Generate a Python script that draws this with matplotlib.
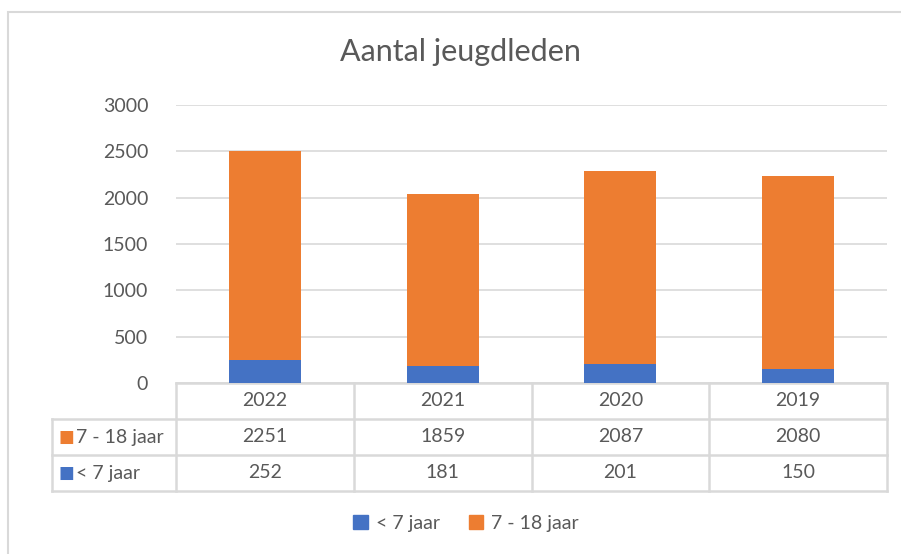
import matplotlib.pyplot as plt
from matplotlib.patches import Patch, Rectangle
from matplotlib.lines import Line2D

plt.rcParams['font.family'] = ['Lato', 'DejaVu Sans']

years = ['2022', '2021', '2020', '2019']
series_names = ['7 - 18 jaar', '< 7 jaar']
under_7 = [252, 181, 201, 150]
age_7_18 = [2251, 1859, 2087, 2080]

blue = '#4472C4'
orange = '#ED7D31'
grey_text = '#595959'
grid_col = '#D9D9D9'

fig = plt.figure(figsize=(9.01, 5.54), dpi=100)
W, H = 901, 554

# chart border
fig.patches.append(Rectangle((8 / W, -0.1), 1.2, 1 - 12 / H + 0.1, transform=fig.transFigure,
                             fill=False, edgecolor=grid_col, linewidth=1.5))

ax = fig.add_axes([176 / W, (H - 383) / H, (887 - 176) / W, (383 - 105) / H])
x = range(len(years))
ax.bar(x, under_7, width=0.405, color=blue, zorder=3)
ax.bar(x, age_7_18, width=0.405, bottom=under_7, color=orange, zorder=3)

ax.set_xlim(-0.5, len(years) - 0.5)
ax.set_ylim(0, 3000)
ax.set_yticks(range(0, 3001, 500))
ax.yaxis.grid(True, color=grid_col, linewidth=1.2, zorder=0)
ax.tick_params(axis='y', length=0, pad=20, labelsize=14, labelcolor=grey_text)
ax.set_xticks([])
for s in ax.spines.values():
    s.set_visible(False)

fig.text(460 / W, 1 - 52 / H, 'Aantal jeugdleden', ha='center', va='center',
         fontsize=22, color=grey_text)

# data table below the axis
row_h = 36 / 278
label_left = -0.5 - (176 - 52) / 177.75
kw = dict(color=grid_col, linewidth=1.8, clip_on=False, transform=ax.get_xaxis_transform())
ax.add_line(Line2D([-0.5, 3.5], [0, 0], **kw))
for i in range(1, 4):
    ax.add_line(Line2D([label_left, 3.5], [-i * row_h, -i * row_h], **kw))
for xv in [-0.5 + k for k in range(5)]:
    ax.add_line(Line2D([xv, xv], [0, -3 * row_h], **kw))
ax.add_line(Line2D([label_left, label_left], [-row_h, -3 * row_h], **kw))

trans = ax.get_xaxis_transform()
for i, yr in enumerate(years):
    ax.text(i, -0.5 * row_h, yr, ha='center', va='center', fontsize=14, color=grey_text, transform=trans)
rows = [(series_names[0], age_7_18, orange), (series_names[1], under_7, blue)]
for r, (name, vals, col) in enumerate(rows):
    yc = -(r + 1.5) * row_h
    for i, v in enumerate(vals):
        ax.text(i, yc, str(v), ha='center', va='center', fontsize=14, color=grey_text, transform=trans)
    ax.text(label_left + 0.08, yc, '■', ha='center', va='center', fontsize=12, color=col,
            transform=trans, family='DejaVu Sans')
    ax.text(label_left + 0.135, yc, name, ha='left', va='center', fontsize=14, color=grey_text, transform=trans)

handles = [Patch(color=blue), Patch(color=orange)]
fig.legend(handles, [series_names[1], series_names[0]], ncol=2, loc='center',
           bbox_to_anchor=(466 / W, 1 - 523 / H), frameon=False, fontsize=14,
           handlelength=0.75, handleheight=0.75, handletextpad=0.4, columnspacing=1.5,
           labelcolor=grey_text)

fig.savefig('out.png', dpi=100)
